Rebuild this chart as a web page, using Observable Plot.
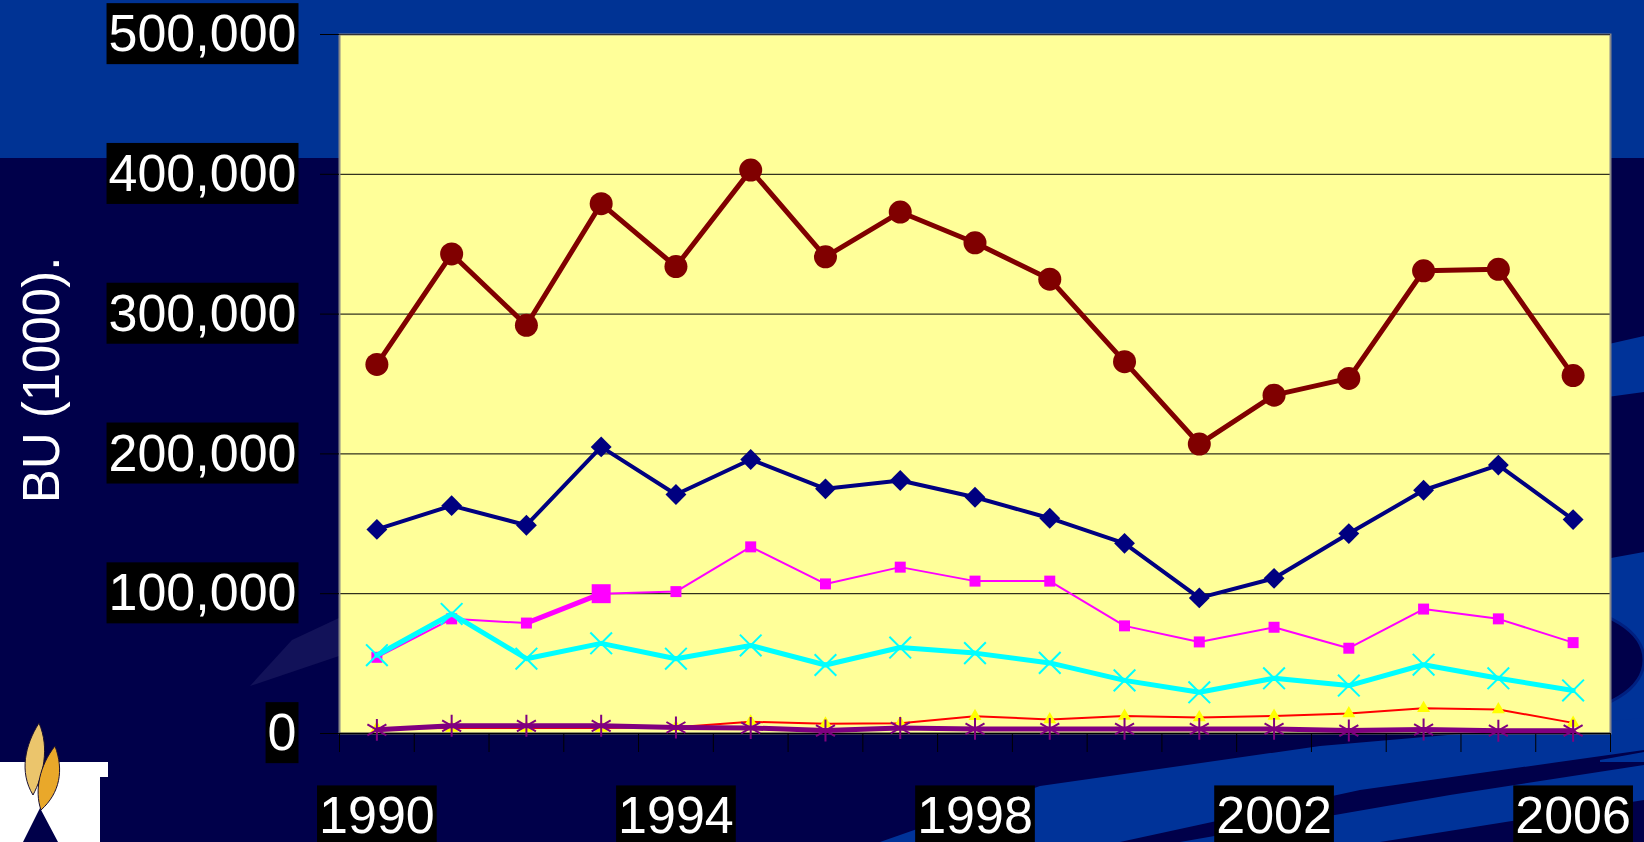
<!DOCTYPE html>
<html><head><meta charset="utf-8">
<script src="https://cdn.jsdelivr.net/npm/d3@7"></script>
<script src="https://cdn.jsdelivr.net/npm/@observablehq/plot@0.6"></script>
<style>
html,body{margin:0;padding:0;background:#00004a;width:1644px;height:842px;overflow:hidden;}
#wrap{position:relative;width:1644px;height:842px;}
#bg{position:absolute;left:0;top:0;}
#chart{position:absolute;left:0;top:0;}
</style></head><body>
<div id="wrap">
<svg id="bg" width="1644" height="842" xmlns="http://www.w3.org/2000/svg">
  <rect x="0" y="0" width="1644" height="842" fill="#00004a"/>
  <rect x="0" y="0" width="1644" height="158" fill="#003394"/>
  <polygon points="1600,346 1644,336 1644,392 1600,398" fill="#003399"/>
  <polygon points="1600,560 1644,552 1644,762 1600,762" fill="#003399"/>
  <ellipse cx="1560" cy="660" rx="84" ry="52" fill="#00004a" stroke="#002080" stroke-width="3"/>
  <polygon points="1600,738 1644,730 1644,752 1600,760" fill="#00004a"/>
  <polygon points="880,842 1040,786 1320,746 1644,718 1644,750 1360,790 1120,842" fill="#003399"/>
  <polygon points="1180,842 1450,795 1644,765 1644,800 1380,842" fill="#003399"/>
  <polygon points="250,686 339,656 339,618 292,640" fill="#16165c" opacity="0.8"/>
  <polygon points="0,762 108,762 108,777 100,777 100,842 58,842 40,808 23,842 0,842" fill="#ffffff"/>
  <polygon points="27,762 58,762 42,794" fill="#00004a"/>
  <path d="M39,723 C25,745 19,772 33,795 C43,776 50,748 39,723 Z" fill="#ebc56c" stroke="#1a1030" stroke-width="1"/>
  <path d="M55,746 C64,770 60,793 41,810 C34,790 40,765 55,746 Z" fill="#e9a82a" stroke="#1a1030" stroke-width="1"/>
</svg>
<div id="chart"></div>
</div>
<script>
const years = [1990,1991,1992,1993,1994,1995,1996,1997,1998,1999,2000,2001,2002,2003,2004,2005,2006];
const labelYears = [1990,1994,1998,2002,2006];
const yTicks = [0,100000,200000,300000,400000,500000];
const bounds = [1989.5,1990.5,1991.5,1992.5,1993.5,1994.5,1995.5,1996.5,1997.5,1998.5,1999.5,2000.5,2001.5,2002.5,2003.5,2004.5,2005.5,2006.5];

const seriesCircle = [264000,343000,292000,379000,334000,403000,341000,373000,351000,325000,266000,207000,242000,254000,331000,332000,256000];
const seriesDiamond = [146000,163000,149000,205000,171000,196000,175000,181000,169000,154000,136000,97000,111000,143000,174000,192000,153000];
const seriesSquare = [54500,82000,79000,100000,101500,133500,107000,119000,109000,109000,77000,65500,76000,61000,89000,82000,65000];
const seriesTimes = [56000,85500,53500,64500,53500,63000,49000,61500,57500,50500,38000,29500,39500,34300,49200,39500,30800];
const seriesTriangle = [3500,4000,4000,4000,4500,8400,6900,7400,12400,10000,12600,11400,12600,14300,18000,17200,7600];
const seriesAsterisk = [2600,5500,5500,5500,4300,4000,2100,4000,3300,3300,3300,3300,3300,2100,2800,2000,2000];

const rows = vals => years.map((year, i) => ({year, value: vals[i]}));
const dC = rows(seriesCircle), dD = rows(seriesDiamond), dS = rows(seriesSquare),
      dT = rows(seriesTimes), dTr = rows(seriesTriangle), dA = rows(seriesAsterisk);

const font = "'Liberation Sans', Arial, sans-serif";

const chart = Plot.plot({
  width: 1644, height: 842,
  marginLeft: 339, marginRight: 34, marginTop: 34, marginBottom: 109,
  style: {background: "transparent", fontFamily: font, overflow: "visible"},
  x: {type: "linear", domain: [1989.5, 2006.5], label: null},
  y: {domain: [0, 500000], label: null},
  marks: [
    Plot.frame({fill: "#FFFF99"}),
    Plot.ruleY(yTicks, {stroke: "black", strokeWidth: 1}),
    Plot.frame({stroke: "#888888", strokeWidth: 2}),
    Plot.ruleY([500000], {stroke: "#333333", strokeWidth: 1}),
    Plot.ruleY([0], {stroke: "black", strokeWidth: 1.5}),
    Plot.axisY({ticks: yTicks, tickFormat: d3.format(","), tickSize: 19, tickPadding: 24,
      fontSize: 52, fill: "white", stroke: "black", label: null}),
    Plot.axisX({ticks: bounds, tickSize: 19, tickFormat: () => "", stroke: "black", label: null}),
    Plot.axisX({ticks: labelYears, tickSize: 0, tickPadding: 63, fontSize: 52, fill: "white",
      tickFormat: d => String(d), label: null}),

    Plot.line(dD, {x: "year", y: "value", stroke: "#000080", strokeWidth: 4}),
    Plot.dot(dD, {x: "year", y: "value", symbol: "diamond2", r: 9.4, fill: "#000080", stroke: "none"}),

    Plot.line(dC, {x: "year", y: "value", stroke: "#800000", strokeWidth: 5}),
    Plot.dot(dC, {x: "year", y: "value", symbol: "circle", r: 11.5, fill: "#800000", stroke: "none"}),

    Plot.line(dS, {x: "year", y: "value", stroke: "#FF00FF", strokeWidth: 2}),
    Plot.line(dS, {filter: d => d.year === 1992 || d.year === 1993, x: "year", y: "value", stroke: "#FF00FF", strokeWidth: 5}),
    Plot.dot(dS, {x: "year", y: "value", symbol: "square", r: 6.2, fill: "#FF00FF", stroke: "none"}),
    Plot.dot(dS, {filter: d => d.year === 1993, x: "year", y: "value", symbol: "square", r: 10.7, fill: "#FF00FF", stroke: "none"}),

    Plot.line(dT, {x: "year", y: "value", stroke: "#00FFFF", strokeWidth: 5}),
    Plot.dot(dT, {x: "year", y: "value", symbol: "times", r: 9.9, stroke: "#00FFFF", strokeWidth: 2, fill: "none"}),

    Plot.line(dTr, {x: "year", y: "value", stroke: "#FF0000", strokeWidth: 2}),
    Plot.dot(dTr, {x: "year", y: "value", symbol: "triangle2", r: 6.2, fill: "#FFFF00", stroke: "none"}),

    Plot.line(dA, {x: "year", y: "value", stroke: "#800080", strokeWidth: 5}),
    Plot.dot(dA, {x: "year", y: "value", symbol: "asterisk", r: 10.4, stroke: "#800080", strokeWidth: 2, fill: "none"})
  ]
});

document.getElementById("chart").appendChild(chart);

const ns = "http://www.w3.org/2000/svg";
chart.querySelectorAll('g[aria-label$="tick label"] text').forEach(t => {
  if (!t.textContent) return;
  const b = t.getBBox();
  const r = document.createElementNS(ns, "rect");
  r.setAttribute("x", b.x - 2);
  r.setAttribute("y", b.y - 1);
  r.setAttribute("width", b.width + 4);
  r.setAttribute("height", b.height + 3);
  r.setAttribute("fill", "black");
  r.setAttribute("stroke", "none");
  if (t.getAttribute("transform")) r.setAttribute("transform", t.getAttribute("transform"));
  t.parentNode.insertBefore(r, t);
});

const title = document.createElementNS(ns, "text");
title.setAttribute("transform", "translate(59,380) rotate(-90)");
title.setAttribute("text-anchor", "middle");
title.setAttribute("fill", "white");
title.setAttribute("font-size", "51");
title.setAttribute("font-family", font);
title.textContent = "BU (1000).";
chart.appendChild(title);
</script>
</body></html>
